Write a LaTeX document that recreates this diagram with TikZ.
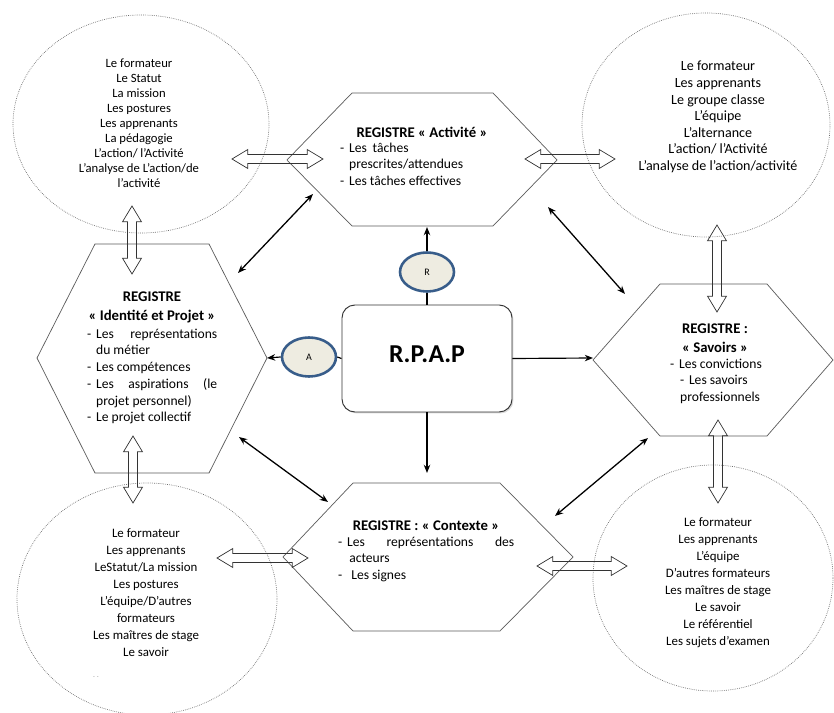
\documentclass[tikz,border=0pt]{standalone}
\usepackage{fontspec}
\setmainfont{Carlito}
\usetikzlibrary{arrows.meta, positioning, calc, shapes.geometric, shapes.arrows, shadows}
\definecolor{hexgray}{HTML}{5A5A5A}
\definecolor{ovalgray}{HTML}{6E6E6E}
\definecolor{tagfill}{HTML}{EEECE1}
\definecolor{tagblue}{HTML}{385D8A}

\tikzset{
  hexa/.style={draw=hexgray, line width=0.6pt},
  oval/.style={ellipse, draw=ovalgray, densely dotted, line width=0.6pt, inner sep=0pt},
  tag/.style={ellipse, draw=tagblue, fill=tagfill, line width=2.2pt,
    minimum width=1.62cm, minimum height=1.17cm, inner sep=0pt,
    font=\fontsize{8.5}{9}\selectfont},
  rpap/.style={draw=black!80, fill=white, rounded corners=11pt, line width=0.8pt,
    minimum width=5.1cm, minimum height=3.21cm, text depth=8pt,
    font=\bfseries\fontsize{22}{26}\selectfont,
    drop shadow={shadow xshift=1.2pt, shadow yshift=-1.2pt, opacity=0.3}},
  hdr/.style={font=\bfseries\fontsize{12.6}{16.2}\selectfont, align=center, inner sep=0pt},
  body/.style={font=\fontsize{11.6}{14.3}\selectfont, align=left, inner sep=0pt, anchor=north west},
  listing/.style={align=center, inner sep=0pt},
  link/.style={{Stealth[length=7pt, width=5.5pt]}-{Stealth[length=7pt, width=5.5pt]}, line width=1.1pt},
  feed/.style={-{Stealth[length=7pt, width=5.5pt]}, line width=1pt},
  blockarrow/.style={double arrow, draw=black!80, line width=0.6pt, sloped,
    minimum width=0.55cm, double arrow head extend=0.15cm,
    double arrow tip angle=62, inner xsep=0pt, inner ysep=0.125cm},
}

\begin{document}
\begin{tikzpicture}[x=0.03cm, y=-0.03cm]

  \useasboundingbox (0,0) rectangle (834,713);

  % === Ellipses ===
  \node[oval, minimum width=7.68cm, minimum height=6.54cm] (ovTL) at (141,124) {};
  \node[oval, minimum width=7.44cm, minimum height=6.72cm] (ovTR) at (706,125) {};
  \node[oval, minimum width=7.8cm, minimum height=6.96cm] (ovBL) at (147,599) {};
  \node[oval, minimum width=7.2cm, minimum height=6.78cm] (ovBR) at (713,578) {};

  \node[listing, font=\fontsize{10.8}{12.75}\selectfont] (tlTxt) at (139,123)
    {Le formateur\\Le Statut\\La mission\\Les postures\\Les apprenants\\La pédagogie\\
     L’action/ l’Activité\\L’analyse de L’action/de\\l’activité};
  \node[listing, font=\fontsize{12}{14.2}\selectfont] (trTxt) at (718,117)
    {Le formateur\\Les apprenants\\Le groupe classe\\L’équipe\\L’alternance\\
     L’action/ l’Activité\\L’analyse de l’action/activité};
  \node[listing, font=\fontsize{11}{14.45}\selectfont] (blTxt) at (146,592.5)
    {Le formateur\\Les apprenants\\LeStatut/La mission\\Les postures\\L’équipe/D’autres\\
     formateurs\\Les maîtres de stage\\Le savoir};
  \node[font=\tiny, text=black!50, inner sep=0pt] (blDots) at (96,678) {-\,\,-};
  \node[listing, font=\fontsize{11}{14.45}\selectfont] (brTxt) at (718,582.5)
    {Le formateur\\Les apprenants\\L’équipe\\D’autres formateurs\\Les maîtres de stage\\
     Le savoir\\Le référentiel\\Les sujets d’examen};

  % === Hexagons (registres) ===
  \draw[hexa] (352,93) -- (493,93) -- (557,160) -- (493,226) -- (352,226) -- (287,160) -- cycle;
  \draw[hexa] (95,244) -- (209,244) -- (267,358) -- (209,473) -- (95,473) -- (37,358) -- cycle;
  \draw[hexa] (660,284) -- (767,284) -- (833,360) -- (767,436) -- (660,436) -- (593,360) -- cycle;
  \draw[hexa] (353,483) -- (500,483) -- (573,557) -- (500,631) -- (353,631) -- (283,557) -- cycle;

  % Activite
  \node[hdr] (actH) at (422,132) {REGISTRE « Activité »};
  \node[body] (actB) at (340,142.5)
    {-\kern4pt Les\kern5pt tâches\\\hspace*{7.6pt}prescrites/attendues\\-\kern4pt Les tâches effectives};

  % Identite et Projet
  \node[hdr] (idpH) at (152,307.5) {REGISTRE\\« Identité et Projet »};
  \node[body] (idpB) at (87,328.5)
    {\makebox[3.9cm][s]{-\kern4pt Les représentations}\\
     \hspace*{7.6pt}du métier\\
     -\kern4pt Les compétences\\
     \makebox[3.9cm][s]{-\kern4pt Les aspirations (le}\\
     \hspace*{7.6pt}projet personnel)\\
     -\kern4pt Le projet collectif};

  % Savoirs
  \node[hdr] (savH) at (715,338.5) {REGISTRE :\\« Savoirs »};
  \node[body] (savB) at (670,358.5)
    {-\kern4pt Les convictions\\\hspace*{8.5pt}-\kern4pt Les savoirs\\\hspace*{8.5pt}professionnels};

  % Contexte
  \node[hdr] (ctxH) at (426,526) {REGISTRE : « Contexte »};
  \node[body] (ctxB) at (338,536.5)
    {\makebox[5.28cm][s]{-\kern4pt Les représentations des}\\
     \hspace*{9.4pt}acteurs\\
     -\kern7.6pt Les signes};

  % === Centre ===
  \node[rpap] (rpap) at (427,358.5) {R.P.A.P};
  \node[tag] (tagR) at (427,272) {R};
  \node[tag] (tagA) at (309,357) {A};

  \coordinate (actS) at (427,227);
  \coordinate (idpE) at (267,358);
  \coordinate (savW) at (593,358);
  \coordinate (ctxN) at (427,473);

  \draw[line width=1pt] (rpap.north) -- (tagR.south);
  \draw[feed] (tagR.north) -- (actS);
  \draw[line width=1pt] (rpap.west) -- (tagA.east);
  \draw[feed] (tagA.west) -- (idpE);
  \draw[feed] (rpap.east) -- (savW);
  \draw[feed] (rpap.south) -- (ctxN);

  % Links between registres
  \coordinate (idpNE) at (238,273);
  \coordinate (actSW) at (313,194);
  \coordinate (actSE) at (548,207);
  \coordinate (savNW) at (625,294);
  \coordinate (idpSE) at (239,437);
  \coordinate (ctxNW) at (328,502);
  \coordinate (ctxNE) at (555,516);
  \coordinate (savSW) at (648,438);

  \draw[link] (idpNE) -- (actSW);
  \draw[link] (actSE) -- (savNW);
  \draw[link] (idpSE) -- (ctxNW);
  \draw[link] (ctxNE) -- (savSW);

  % === Block arrows ellipse <-> registre ===
  \coordinate (tlE) at (232,159);  \coordinate (actW) at (323,159);
  \coordinate (actE) at (525,159); \coordinate (trW) at (615,159);
  \coordinate (tlS) at (132,206);  \coordinate (idpN) at (132,274);
  \coordinate (idpS) at (133,436); \coordinate (blN) at (133,503);
  \coordinate (trS) at (717,225);  \coordinate (savN) at (717,312);
  \coordinate (savS) at (718,420); \coordinate (brN) at (718,503);
  \coordinate (blE) at (217,558);  \coordinate (ctxW) at (308,558);
  \coordinate (ctxE) at (537,566); \coordinate (brW) at (627,566);

  \path (tlE) -- node[blockarrow, minimum height=2.73cm] (baTL) {} (actW);
  \path (actE) -- node[blockarrow, minimum height=2.7cm] (baTR) {} (trW);
  \path (tlS) -- node[blockarrow, minimum height=2.04cm] (baLU) {} (idpN);
  \path (idpS) -- node[blockarrow, minimum height=2.01cm] (baLD) {} (blN);
  \path (trS) -- node[blockarrow, minimum height=2.61cm] (baRU) {} (savN);
  \path (savS) -- node[blockarrow, minimum height=2.49cm] (baRD) {} (brN);
  \path (blE) -- node[blockarrow, minimum height=2.73cm] (baBL) {} (ctxW);
  \path (ctxE) -- node[blockarrow, minimum height=2.7cm] (baBR) {} (brW);

\end{tikzpicture}
\end{document}
